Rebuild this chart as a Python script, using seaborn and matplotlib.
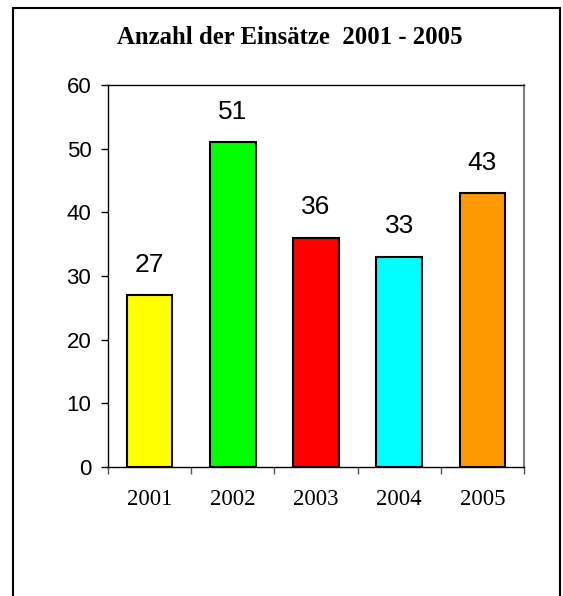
import numpy as np
import pandas as pd
import matplotlib
matplotlib.use("Agg")
import matplotlib.pyplot as plt
from matplotlib.lines import Line2D
import seaborn as sns

years = ["2001", "2002", "2003", "2004", "2005"]
einsaetze = [27, 51, 36, 33, 43]
farben = ["#FFFF00", "#00FF00", "#FF0000", "#00FFFF", "#FF9900"]

data = pd.DataFrame({"Jahr": years, "Einsaetze": einsaetze})

sns.set_style("white")
plt.rcParams['font.family'] = ['Liberation Sans', 'DejaVu Sans']
plt.rcParams['text.color'] = 'black'
plt.rcParams['xtick.color'] = 'black'
plt.rcParams['ytick.color'] = 'black'

fig = plt.figure(figsize=(5.63, 5.96), dpi=100)
ax = fig.add_axes([108/563, 1-467/596, (524-108)/563, (467-85)/596])

sns.barplot(x="Jahr", y="Einsaetze", data=data, hue="Jahr", palette=farben,
            legend=False, width=0.55, edgecolor="black", linewidth=1.5,
            saturation=1, ax=ax)

for i, v in enumerate(einsaetze):
    ax.annotate(str(v), (i, v), xytext=(0, 22), textcoords="offset points",
                ha="center", va="center", fontsize=19, color="black")

ax.set_ylim(0, 60)
ax.set_xlim(-0.5, 4.5)
ax.set_yticks(range(0, 61, 10))
ax.set_xlabel("")
ax.set_ylabel("")
ax.tick_params(axis="y", direction="out", length=5, width=1, labelsize=16, pad=7,
               left=True, labelcolor="black")
ax.set_xticks(np.arange(-0.5, 5, 1), minor=True)
ax.tick_params(axis="x", which="minor", direction="out", length=5, width=1, color="#555555", bottom=True)
ax.tick_params(axis="x", which="major", length=0, pad=16, labelcolor="black")
for lab in ax.get_xticklabels():
    lab.set_family(["Liberation Serif", "DejaVu Serif"])
    lab.set_fontsize(16.5)

for s in ["left", "bottom", "top"]:
    ax.spines[s].set_color("black")
    ax.spines[s].set_linewidth(1)
ax.spines["right"].set_color("#808080")
ax.spines["right"].set_linewidth(1.5)

fig.text(290/563, 1-37/596, "Anzahl der Einsätze  2001 - 2005", ha="center", va="center",
         fontsize=17.8, fontweight="bold", color="black",
         family=["Liberation Serif", "DejaVu Serif"])

# Rahmen um das Diagramm (unten offen)
x0, x1, y0 = 13/563, 560/563, 1-8/596
fig.add_artist(Line2D([x0, x0], [0, y0], color="black", lw=1.5, transform=fig.transFigure))
fig.add_artist(Line2D([x0, x1], [y0, y0], color="black", lw=1.5, transform=fig.transFigure))
fig.add_artist(Line2D([x1, x1], [0, y0], color="black", lw=1.5, transform=fig.transFigure))

fig.savefig("out.png", dpi=100, facecolor="white")
